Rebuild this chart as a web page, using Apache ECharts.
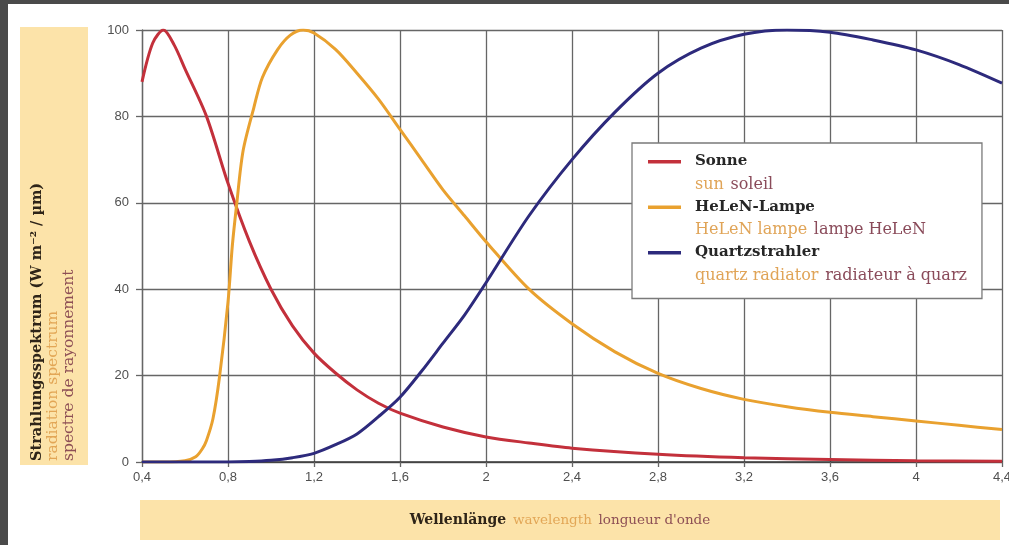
<!DOCTYPE html>
<html>
<head>
<meta charset="utf-8">
<script src="https://cdn.jsdelivr.net/npm/echarts@6/dist/echarts.min.js"></script>
<style>
  html, body { margin: 0; padding: 0; width: 1009px; height: 545px; background: #4a4a4a; overflow: hidden; }
  #chart { position: absolute; left: 8px; top: 4px; width: 1001px; height: 541px; background: #ffffff; }
</style>
</head>
<body>
<div id="chart"></div>
<script>
// ---- data ----
const seriesNames   = ['Sonne', 'HeLeN-Lampe', 'Quartzstrahler'];
const seriesNamesEn = ['sun', 'HeLeN lampe', 'quartz radiator'];
const seriesNamesFr = ['soleil', 'lampe HeLeN', 'radiateur à quarz'];

const sunX = [0.4, 0.45, 0.5, 0.55, 0.6, 0.7, 0.8, 0.9, 1.0, 1.1, 1.2, 1.3, 1.4, 1.5, 1.6, 1.8, 2.0, 2.2, 2.4, 2.8, 3.2, 3.6, 4.0, 4.4];
const sunY = [88, 97, 100, 96.5, 91, 80, 64.5, 51, 40, 31.5, 25.2, 20.6, 16.7, 13.6, 11.3, 8.1, 5.8, 4.4, 3.2, 1.8, 1.0, 0.6, 0.3, 0.2];

const lampX = [0.4, 0.5, 0.6, 0.65, 0.68, 0.7, 0.73, 0.76, 0.8, 0.82, 0.84, 0.87, 0.92, 0.96, 1.03, 1.09, 1.15, 1.2, 1.3, 1.4, 1.5, 1.6, 1.7, 1.8, 1.9, 2.0, 2.2, 2.4, 2.6, 2.8, 3.0, 3.2, 3.4, 3.6, 3.8, 4.0, 4.2, 4.4];
const lampY = [0, 0, 0.3, 1.2, 3, 5, 10, 19.5, 37, 50, 59.5, 72, 82, 89, 95.4, 98.8, 100, 99.3, 95.5, 90, 84, 77, 70, 63, 57, 51, 40, 32, 25.5, 20.5, 17, 14.5, 12.8, 11.5, 10.5, 9.5, 8.5, 7.5];

const quartzX = [0.4, 0.6, 0.8, 0.9, 1.0, 1.1, 1.2, 1.3, 1.4, 1.5, 1.6, 1.7, 1.8, 1.9, 2.0, 2.2, 2.4, 2.6, 2.8, 3.0, 3.2, 3.4, 3.6, 3.8, 4.0, 4.2, 4.4];
const quartzY = [0, 0, 0, 0.1, 0.4, 1, 2, 4, 6.5, 10.5, 15, 21, 27.5, 34, 41.5, 57, 70, 81, 90, 95.8, 99, 100, 99.5, 97.7, 95.4, 92, 87.7];

const xTickMin = 0.4, xTickMax = 4.4, xTickStep = 0.4;
const yTickMin = 0, yTickMax = 100, yTickStep = 20;

const yTitle = ['Strahlungsspektrum (W m⁻² / µm)', 'radiation spectrum', 'spectre de rayonnement'];
const xTitle = ['Wellenlänge', 'wavelength', 'longueur d\'onde'];

// ---- build ----
function pairs(xs, ys) { return xs.map((x, i) => [x, ys[i]]); }
const colors = ['#c3303b', '#e9a12f', '#2d2a7c'];
const serif = '"DejaVu Serif", "Liberation Serif", serif';
const sans = '"Liberation Sans", "DejaVu Sans", sans-serif';

const chart = echarts.init(document.getElementById('chart'), null, { renderer: 'canvas' });

const gridLineStyle = { color: '#666666', width: 1.3 };

const option = {
  backgroundColor: '#ffffff',
  animation: false,
  color: colors,
  grid: { left: 134, right: 7, top: 26, bottom: 83, containLabel: false, outerBoundsMode: 'none' },
  xAxis: {
    type: 'value',
    min: xTickMin, max: xTickMax, interval: xTickStep,
    axisLine: { show: true, onZero: false, lineStyle: { color: '#3a3a3a', width: 1.6 } },
    axisTick: { show: true, length: 5, lineStyle: { color: '#666666', width: 1.3 } },
    splitLine: { show: true, lineStyle: gridLineStyle },
    axisLabel: {
      margin: 9, color: '#505050', fontFamily: sans, fontSize: 13,
      formatter: v => String(+v.toFixed(1)).replace('.', ',')
    }
  },
  yAxis: {
    type: 'value',
    min: yTickMin, max: yTickMax, interval: yTickStep,
    axisLine: { show: true, lineStyle: { color: '#666666', width: 1.3 } },
    axisTick: { show: true, length: 6, lineStyle: { color: '#666666', width: 1.3 } },
    splitLine: { show: true, lineStyle: gridLineStyle },
    axisLabel: { margin: 13, color: '#505050', fontFamily: sans, fontSize: 13 }
  },
  legend: {
    left: 624, top: 139, orient: 'vertical',
    selectedMode: false,
    backgroundColor: '#ffffff',
    borderColor: '#7a7a7a', borderWidth: 1.3, borderRadius: 0,
    padding: [11, 15, 15, 16],
    itemGap: 7,
    itemWidth: 42, itemHeight: 26,
    symbolKeepAspect: false,
    icon: 'path://M0,0L33,0L33,3.4L0,3.4Z M42,26',
    itemStyle: { borderWidth: 0 },
    data: seriesNames,
    formatter: name => {
      const i = seriesNames.indexOf(name);
      return '{b|' + name + '}\n{e|' + seriesNamesEn[i] + '}  {f|' + seriesNamesFr[i] + '}';
    },
    textStyle: {
      rich: {
        b: { fontFamily: serif, fontWeight: 'bold', fontSize: 15, color: '#262626', lineHeight: 23 },
        e: { fontFamily: serif, fontSize: 16, color: '#e0a457', lineHeight: 23 },
        f: { fontFamily: serif, fontSize: 16, color: '#8a4b5a', lineHeight: 23 }
      }
    }
  },
  series: [
    { name: seriesNames[0], type: 'line', data: pairs(sunX, sunY) },
    { name: seriesNames[1], type: 'line', data: pairs(lampX, lampY) },
    { name: seriesNames[2], type: 'line', data: pairs(quartzX, quartzY) }
  ].map((s, i) => Object.assign(s, {
    smooth: 0.3, showSymbol: false, symbol: 'none',
    lineStyle: { width: 3, color: colors[i] }
  })),
  graphic: [
    { type: 'rect', shape: { x: 12, y: 23, width: 68, height: 438 }, style: { fill: '#fce3a9' }, silent: true },
    { type: 'rect', shape: { x: 132, y: 496, width: 860, height: 40 }, style: { fill: '#fce3a9' }, silent: true },
    {
      type: 'text', x: 21, y: 457, rotation: Math.PI / 2, silent: true,
      style: {
        text: '{b|' + yTitle[0] + '}\n{e|' + yTitle[1] + '}\n{f|' + yTitle[2] + '}',
        align: 'left', verticalAlign: 'top',
        rich: {
          b: { fontFamily: serif, fontWeight: 'bold', fontSize: 14.5, fill: '#2e2418', lineHeight: 16 },
          e: { fontFamily: serif, fontSize: 15.5, fill: '#e2a656', lineHeight: 16 },
          f: { fontFamily: serif, fontSize: 15.5, fill: '#8d4f55', lineHeight: 16 }
        }
      }
    },
    {
      type: 'text', x: 552, y: 516, silent: true,
      style: {
        text: '{b|' + xTitle[0] + '}  {e|' + xTitle[1] + '}  {f|' + xTitle[2] + '}',
        align: 'center', verticalAlign: 'middle',
        rich: {
          b: { fontFamily: serif, fontWeight: 'bold', fontSize: 14, fill: '#2e2418' },
          e: { fontFamily: serif, fontSize: 13.5, fill: '#e2a656' },
          f: { fontFamily: serif, fontSize: 13.5, fill: '#8d4f55' }
        }
      }
    }
  ]
};
chart.setOption(option);
</script>
</body>
</html>
